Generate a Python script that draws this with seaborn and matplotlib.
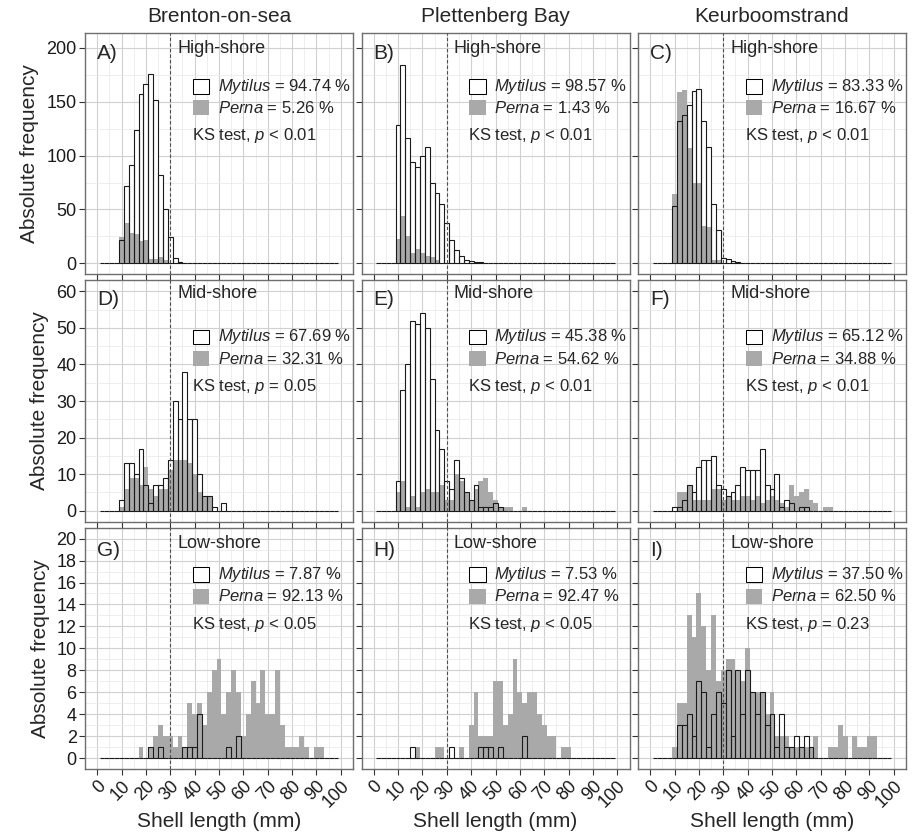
import numpy as np
import pandas as pd
import matplotlib
matplotlib.use("Agg")
import matplotlib.pyplot as plt
from matplotlib.patches import Rectangle
from matplotlib.ticker import MultipleLocator
import seaborn as sns

# ---------------- data ----------------
sites = ["Brenton-on-sea", "Plettenberg Bay", "Keurboomstrand"]
shores = ["High-shore", "Mid-shore", "Low-shore"]
panel_tags = ["A)", "B)", "C)", "D)", "E)", "F)", "G)", "H)", "I)"]

# 2-mm shell-length bins, centres 2..98 mm (edges at odd mm)
bin_centres = list(range(2, 100, 2))
first_centre = 10  # the count lists below start at the 10-mm bin

mytilus_A = [22, 72, 91, 124, 157, 166, 176, 152, 82, 50, 24, 5, 1]
perna_A = [24, 37, 28, 27, 21, 22, 4, 4, 6, 3]
mytilus_B = [128, 184, 116, 94, 89, 100, 108, 75, 65, 55, 37, 22, 12, 7, 3, 2, 1, 1]
perna_B = [23, 44, 25, 10, 13, 10, 7, 6, 3]
mytilus_C = [53, 132, 138, 147, 160, 162, 132, 108, 55, 31, 5, 4, 2, 1]
perna_C = [64, 159, 161, 107, 75, 75, 35, 34, 3, 3]

mytilus_D = [3, 13, 13, 10, 17, 7, 2, 7, 7, 9, 14, 30, 25, 38, 25, 25, 10, 4, 4, 1, 0, 2]
perna_D = [1, 6, 9, 9, 7, 12, 6, 4, 6, 6, 11, 14, 14, 14, 13, 10, 5, 4, 4]
mytilus_E = [8, 33, 40, 52, 51, 54, 50, 36, 22, 17, 8, 6, 14, 9, 5, 3, 7, 1, 1, 1, 2, 1]
perna_E = [5, 8, 1, 4, 1, 5, 6, 5, 5, 7, 3, 3, 10, 8, 5, 3, 6, 8, 9, 5, 3, 1, 1, 1, 0, 0, 1]
mytilus_F = [1, 1, 3, 7, 5, 12, 14, 14, 15, 7, 6, 4, 5, 7, 12, 11, 11, 11, 17, 7,
             6, 10, 1, 3, 2, 0, 1, 1]
perna_F = [0, 5, 5, 7, 3, 3, 3, 3, 6, 6, 3, 4, 3, 3, 4, 4, 3, 4, 2, 3,
           4, 3, 2, 1, 7, 4, 5, 6, 3, 2, 0, 1, 1]

mytilus_G = [0, 0, 0, 0, 0, 0, 1, 0, 1, 0, 0, 0, 0, 1, 1, 1, 4, 0, 0, 0, 0, 0, 1, 0, 2]
perna_G = [0, 0, 0, 0, 1, 0, 1, 2, 3, 2, 2, 1, 2, 1, 5, 4, 5, 3, 6, 8,
           9, 4, 6, 8, 6, 2, 4, 7, 5, 8, 4, 4, 8, 3, 1, 1, 1, 2, 1, 0, 1, 1]
mytilus_H = [0, 0, 0, 1, 0, 0, 0, 0, 0, 0, 0, 1, 0, 0, 0, 0, 0, 1, 1, 1, 0, 1, 0, 0, 0, 0, 2]
perna_H = [0, 0, 0, 0, 1, 0, 0, 0, 1, 1, 0, 0, 0, 1, 0, 3, 6, 2, 2, 2,
           7, 7, 3, 4, 9, 6, 5, 6, 6, 4, 3, 2, 2, 0, 1, 1]
mytilus_I = [0, 3, 3, 4, 2, 7, 6, 1, 4, 6, 5, 8, 2, 8, 4, 8, 6, 4, 6, 3,
             4, 1, 4, 1, 1, 2, 1, 2, 1]
perna_I = [1, 5, 5, 13, 11, 15, 12, 8, 13, 7, 8, 9, 9, 8, 7, 10, 6, 6, 6, 4,
           6, 2, 2, 2, 1, 1, 1, 1, 1, 2, 0, 0, 1, 1, 3, 2, 0, 2, 1, 1, 2, 2]

mytilus_pct = ["94.74", "98.57", "83.33", "67.69", "45.38", "65.12", "7.87", "7.53", "37.50"]
perna_pct = ["5.26", "1.43", "16.67", "32.31", "54.62", "34.88", "92.13", "92.47", "62.50"]
ks_text = ["< 0.01", "< 0.01", "< 0.01", "= 0.05", "< 0.01", "< 0.01", "< 0.05", "< 0.05", "= 0.23"]

mytilus_counts = [mytilus_A, mytilus_B, mytilus_C, mytilus_D, mytilus_E, mytilus_F,
                  mytilus_G, mytilus_H, mytilus_I]
perna_counts = [perna_A, perna_B, perna_C, perna_D, perna_E, perna_F,
                perna_G, perna_H, perna_I]

row_ylim = [(-10.2, 213.8), (-3.0, 63.0), (-1.0, 21.0)]
row_major = [50, 10, 2]
row_minor = [25, 5, 1]
row_ymax_tick = [200, 60, 20]

# text positions (axes fraction) per row: tag, title, mytilus, perna, ks
row_text_y = [(0.917, 0.935, 0.778, 0.691, 0.574),
              (0.921, 0.946, 0.766, 0.676, 0.560),
              (0.905, 0.936, 0.805, 0.716, 0.598)]

# ---------------- style ----------------
sns.set_theme(style="white")
plt.rcParams["font.family"] = ["Liberation Sans", "DejaVu Sans"]
plt.rcParams["mathtext.fontset"] = "custom"
plt.rcParams["mathtext.it"] = "Liberation Sans:italic"
plt.rcParams["mathtext.rm"] = "Liberation Sans"

GREY = "#a9a9a9"
edges = list(range(1, 100, 2))
centres = np.array(bin_centres)


def full(counts):
    arr = np.zeros(len(centres))
    start = (first_centre - centres[0]) // 2
    arr[start:start + len(counts)] = counts
    return arr


fig = plt.figure(figsize=(9.14, 8.33), dpi=100)
axes = fig.subplots(3, 3)
fig.subplots_adjust(left=85 / 914, right=906 / 914, top=1 - 33 / 833,
                    bottom=1 - 769 / 833, wspace=8.5 / 268, hspace=6 / 241)

for k in range(9):
    r, c = divmod(k, 3)
    ax = axes[r, c]
    df = pd.DataFrame({"length": centres.astype(float),
                       "mytilus": full(mytilus_counts[k]),
                       "perna": full(perna_counts[k])})

    sns.histplot(data=df, x="length", weights="mytilus", bins=edges, color="white",
                 edgecolor="none", linewidth=0, alpha=1, ax=ax, zorder=2)
    sns.histplot(data=df, x="length", weights="perna", bins=edges, color=GREY,
                 edgecolor="none", linewidth=0, alpha=1, ax=ax, zorder=3)
    sns.histplot(data=df, x="length", weights="mytilus", bins=edges, fill=False,
                 color="#1a1a1a", linewidth=0.8, ax=ax, zorder=4)
    ax.axvline(30, color="#4d4d4d", linestyle=(0, (3, 2)), linewidth=0.8, zorder=5)

    ax.set_xlim(-5, 105)
    ax.set_ylim(*row_ylim[r])
    ax.xaxis.set_major_locator(MultipleLocator(10))
    ax.xaxis.set_minor_locator(MultipleLocator(5))
    ax.set_yticks(np.arange(0, row_ymax_tick[r] + 1, row_major[r]))
    ax.yaxis.set_minor_locator(MultipleLocator(row_minor[r]))
    ax.grid(which="major", color="#d0d0d0", linewidth=0.8, zorder=0)
    ax.grid(which="minor", color="#e8e8e8", linewidth=0.5, zorder=0)
    ax.set_axisbelow(True)
    for s in ax.spines.values():
        s.set_color("#6e6e6e")
        s.set_linewidth(1.0)
    ax.tick_params(which="major", length=4, width=0.8, color="#333333", labelsize=13,
                   labelcolor="#1a1a1a", pad=2, bottom=True, left=True)
    ax.tick_params(which="minor", length=0)

    if c == 0:
        ax.set_ylabel("Absolute frequency", fontsize=15, labelpad=5)
    else:
        ax.set_ylabel("")
        ax.tick_params(labelleft=False)
    if r == 2:
        ax.set_xlabel("Shell length (mm)", fontsize=15, labelpad=1)
        for lab in ax.get_xticklabels():
            lab.set_rotation(45)
            lab.set_ha("right")
            lab.set_va("top")
            lab.set_rotation_mode("anchor")
    else:
        ax.set_xlabel("")
        ax.tick_params(labelbottom=False)
    if r == 0:
        ax.set_title(sites[c], fontsize=15, pad=8)

    ty = row_text_y[r]
    ax.text(0.044, ty[0], panel_tags[k], transform=ax.transAxes, fontsize=15,
            ha="left", va="center", zorder=6)
    ax.text(0.345, ty[1], shores[r], transform=ax.transAxes, fontsize=13,
            ha="left", va="center", zorder=6)
    ax.add_patch(Rectangle((0.402, ty[2] - 0.031), 0.061, 0.061, transform=ax.transAxes,
                           facecolor="white", edgecolor="black", linewidth=0.75, zorder=6))
    ax.add_patch(Rectangle((0.402, ty[3] - 0.031), 0.061, 0.061, transform=ax.transAxes,
                           facecolor=GREY, edgecolor="none", zorder=6))
    ax.text(0.495, ty[2], r"$\mathit{Mytilus}$ = " + mytilus_pct[k] + " %",
            transform=ax.transAxes, fontsize=12, ha="left", va="center", zorder=6)
    ax.text(0.495, ty[3], r"$\mathit{Perna}$ = " + perna_pct[k] + " %",
            transform=ax.transAxes, fontsize=12, ha="left", va="center", zorder=6)
    ax.text(0.399, ty[4], r"KS test, $\mathit{p}$ " + ks_text[k],
            transform=ax.transAxes, fontsize=12, ha="left", va="center", zorder=6)

fig.savefig("out.png", dpi=100)
